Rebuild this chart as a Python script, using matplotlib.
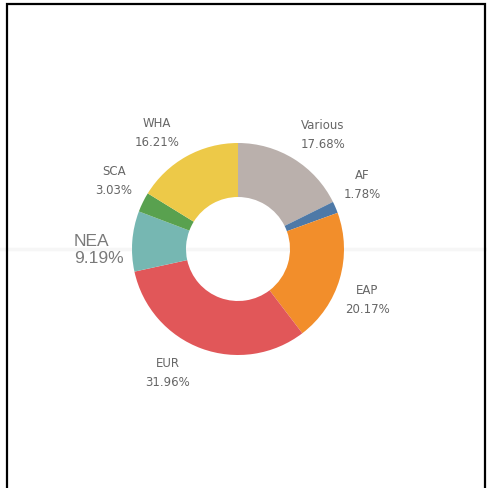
import numpy as np
import matplotlib.pyplot as plt

regions = ['Various', 'AF', 'EAP', 'EUR', 'NEA', 'SCA', 'WHA']
shares = [17.68, 1.78, 20.17, 31.96, 9.19, 3.03, 16.21]
colors = ['#BAB0AC', '#4E79A7', '#F28E2B', '#E15759', '#76B7B2', '#59A14F', '#EDC948']

# label anchors in pixel coords (x, y from top)
label_pos = [(323, 135), (362, 185), (367, 300), (168, 373), (74, 250), (114, 181), (157, 133)]

W, H = 487, 489
fig = plt.figure(figsize=(W / 100, H / 100), dpi=100)
ax = fig.add_axes([0, 0, 1, 1])

cx, cy, r = 238, H - 250, 106
ax.pie(shares, colors=colors, startangle=90, counterclock=False,
       center=(cx, cy), radius=r, frame=True,
       wedgeprops=dict(width=r - 52, linewidth=0))

# faint divider across the sheet
ax.axhline(H - 250, color='#f6f6f6', lw=2.5, zorder=0)

for name, val, (x, y) in zip(regions, shares, label_pos):
    txt = f'{name}\n{val:.2f}%'
    if name == 'NEA':
        ax.text(x, H - y, txt, ha='left', va='center', fontsize=12.5,
                family='Liberation Sans', color='#7a7a7a', linespacing=1.15)
    else:
        ax.text(x, H - y, txt, ha='center', va='center', fontsize=8.5,
                color='#666666', linespacing=1.65)

# outer border (left, top, right)
ax.plot([7, 7, 485, 485], [0, H - 5, H - 5, 0], color='black', lw=1.6,
        solid_joinstyle='miter')

ax.set_xlim(0, W)
ax.set_ylim(0, H)
ax.set_aspect('auto')
ax.axis('off')

fig.savefig('out.png', dpi=100)
